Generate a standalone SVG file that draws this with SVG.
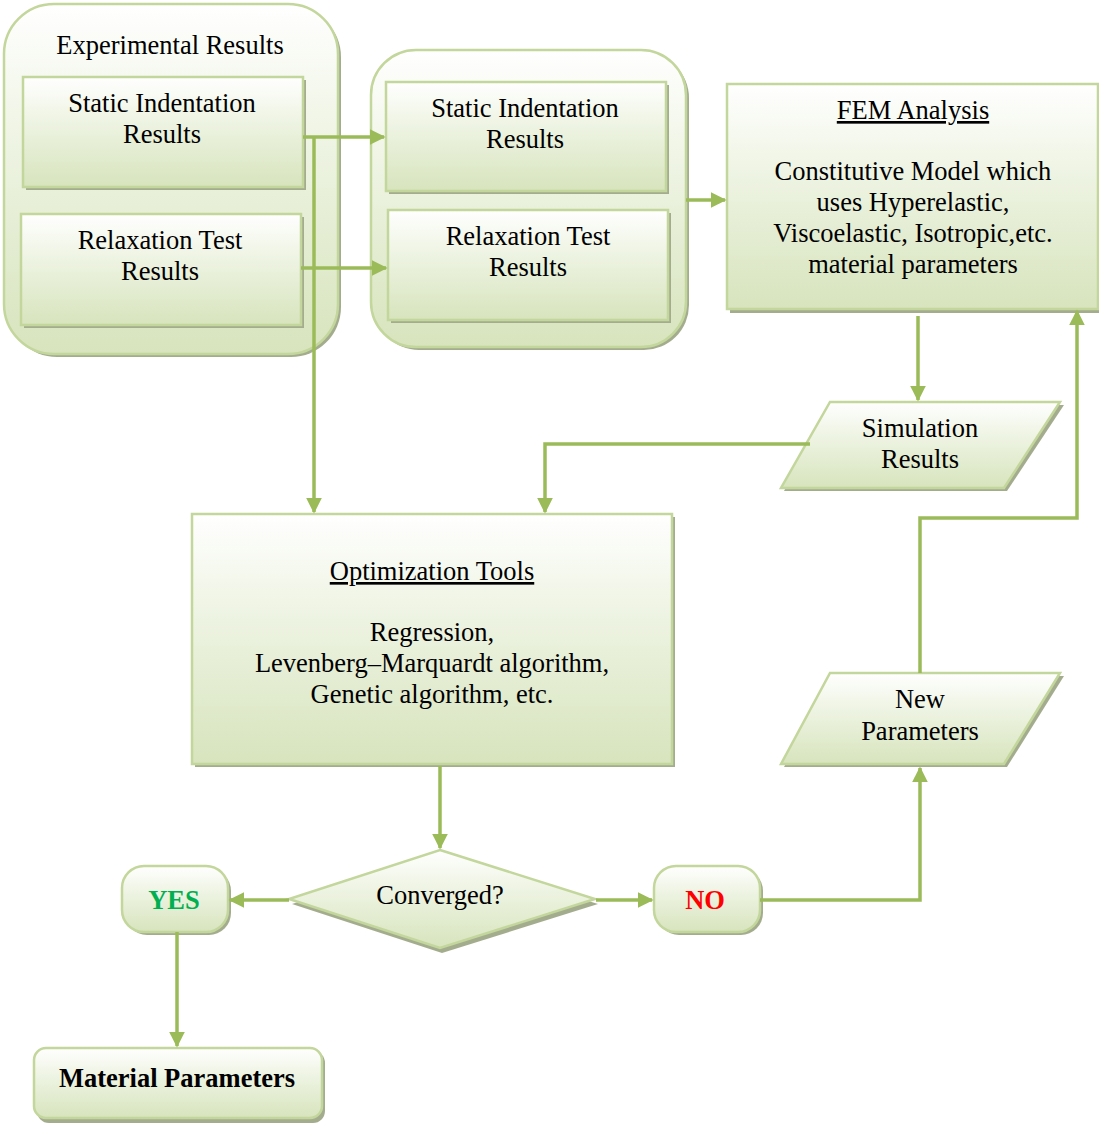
<svg xmlns="http://www.w3.org/2000/svg" width="1099" height="1124" viewBox="0 0 1099 1124">
<style>
text{font-family:"Liberation Serif","Times New Roman",serif;font-size:26.5px;fill:#000;text-anchor:middle}
.shape{fill:url(#g);stroke:#c3d69b;stroke-width:2.5}
.shadow{fill:#a3ad8e;stroke:none}
.conn{fill:none;stroke:#9bbb59;stroke-width:3.5}
.b{font-weight:bold}
.u{text-decoration:underline}
</style>
<defs>
<linearGradient id="g" x1="0" y1="0" x2="0" y2="1">
<stop offset="0" stop-color="#ffffff"/>
<stop offset="0.35" stop-color="#f0f5e6"/>
<stop offset="1" stop-color="#d7e4bd"/>
</linearGradient>
<marker id="ah" viewBox="0 0 10 10" refX="9" refY="5" markerWidth="4.5" markerHeight="4.5" orient="auto" markerUnits="strokeWidth">
<path d="M0,0 L10,5 L0,10 z" fill="#9bbb59"/>
</marker>
</defs>

<g id="experimental-results">
<rect class="shadow" x="7" y="7" width="334" height="350" rx="50"/>
<rect class="shape" x="4" y="4" width="334" height="350" rx="50"/>
<text x="170" y="54">Experimental Results</text>
</g>
<g id="static-1">
<rect class="shadow" x="26" y="80" width="280" height="110"/>
<rect class="shape" x="23" y="77" width="280" height="110"/>
<text x="162" y="112">Static Indentation</text>
<text x="162" y="143">Results</text>
</g>
<g id="relax-1">
<rect class="shadow" x="24" y="217" width="280" height="111"/>
<rect class="shape" x="21" y="214" width="280" height="111"/>
<text x="160" y="249">Relaxation Test</text>
<text x="160" y="280">Results</text>
</g>

<g id="container-2">
<rect class="shadow" x="374" y="53" width="315" height="297" rx="45"/>
<rect class="shape" x="371" y="50" width="315" height="297" rx="45"/>
</g>
<g id="static-2">
<rect class="shadow" x="389" y="85" width="280" height="109"/>
<rect class="shape" x="386" y="82" width="280" height="109"/>
<text x="525" y="117">Static Indentation</text>
<text x="525" y="148">Results</text>
</g>
<g id="relax-2">
<rect class="shadow" x="391" y="213" width="280" height="110"/>
<rect class="shape" x="388" y="210" width="280" height="110"/>
<text x="528" y="245">Relaxation Test</text>
<text x="528" y="276">Results</text>
</g>

<g id="fem">
<rect class="shadow" x="730" y="87" width="371" height="226"/>
<rect class="shape" x="727" y="84" width="371" height="225"/>
<text x="913" y="119" class="u">FEM Analysis</text>
<text x="913" y="180">Constitutive Model which</text>
<text x="913" y="211">uses Hyperelastic,</text>
<text x="913" y="242">Viscoelastic, Isotropic,etc.</text>
<text x="913" y="273">material parameters</text>
</g>

<g id="simulation">
<polygon class="shadow" points="834,405 1064,405 1007,491 784,491"/>
<polygon class="shape" points="830,402 1060,402 1004,488 781,488"/>
<text x="920" y="437">Simulation</text>
<text x="920" y="468">Results</text>
</g>

<g id="new-params">
<polygon class="shadow" points="834,676 1064,676 1007,767 784,767"/>
<polygon class="shape" points="830,673 1060,673 1004,764 781,764"/>
<text x="920" y="708">New</text>
<text x="920" y="740">Parameters</text>
</g>

<g id="optimization">
<rect class="shadow" x="195" y="517" width="480" height="250"/>
<rect class="shape" x="192" y="514" width="480" height="250"/>
<text x="432" y="580" class="u">Optimization Tools</text>
<text x="432" y="641">Regression,</text>
<text x="432" y="672">Levenberg–Marquardt algorithm,</text>
<text x="432" y="703">Genetic algorithm, etc.</text>
</g>

<g id="converged">
<polygon class="shadow" points="442,855 598,904 442,953 292,904"/>
<polygon class="shape" points="440,850 595,899 440,948 289,899"/>
<text x="440" y="904">Converged?</text>
</g>

<g id="yes">
<rect class="shadow" x="125" y="869" width="106" height="66" rx="22"/>
<rect class="shape" x="122" y="866" width="106" height="66" rx="22"/>
<text x="174" y="909" class="b" style="fill:#00b050">YES</text>
</g>

<g id="no">
<rect class="shadow" x="657" y="869" width="106" height="66" rx="22"/>
<rect class="shape" x="654" y="866" width="106" height="66" rx="22"/>
<text x="705" y="909" class="b" style="fill:#ff0000">NO</text>
</g>

<g id="material">
<rect class="shadow" x="37" y="1051" width="288" height="72" rx="12"/>
<rect class="shape" x="34" y="1048" width="288" height="70" rx="12"/>
<text x="177" y="1087" class="b">Material Parameters</text>
</g>

<g id="connectors">
<path class="conn" d="M303,137 H384" marker-end="url(#ah)"/>
<path class="conn" d="M314,137 V512" marker-end="url(#ah)"/>
<path class="conn" d="M301,268 H386" marker-end="url(#ah)"/>
<path class="conn" d="M686,200 H725" marker-end="url(#ah)"/>
<path class="conn" d="M918,316 V400" marker-end="url(#ah)"/>
<path class="conn" d="M810,444 H545 V512" marker-end="url(#ah)"/>
<path class="conn" d="M920,673 V518 H1077 V311" marker-end="url(#ah)"/>
<path class="conn" d="M440,766 V848" marker-end="url(#ah)"/>
<path class="conn" d="M289,900 H230" marker-end="url(#ah)"/>
<path class="conn" d="M596,900 H652" marker-end="url(#ah)"/>
<path class="conn" d="M760,900 H920 V768" marker-end="url(#ah)"/>
<path class="conn" d="M177,932 V1046" marker-end="url(#ah)"/>
</g>
</svg>
